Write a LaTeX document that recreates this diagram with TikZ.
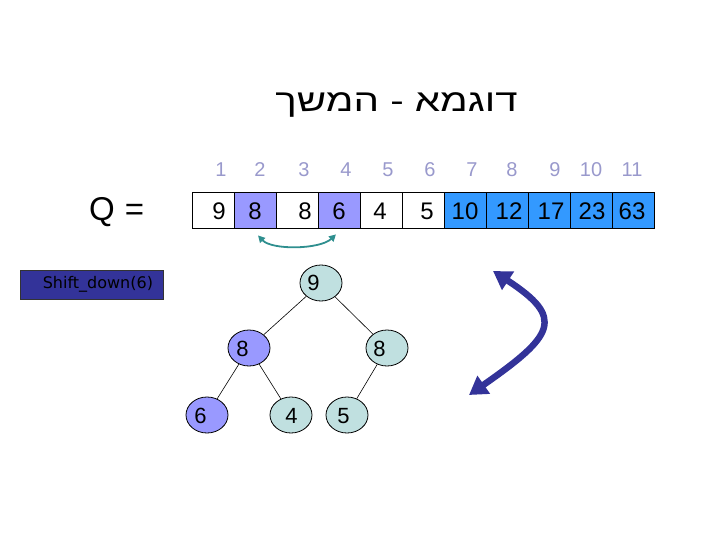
\documentclass[tikz,border=0pt]{standalone}
\usepackage{fontspec}
\setmainfont{Liberation Sans}
\newfontfamily\hebfont[Script=Hebrew,FakeStretch=1.3]{Liberation Sans}
\newfontfamily\boxfont{DejaVu Sans}
\TeXXeTstate=1
\usetikzlibrary{arrows.meta,shapes.geometric}
\definecolor{lblc}{HTML}{9999CC}
\definecolor{purp}{HTML}{9999FF}
\definecolor{bluec}{HTML}{3399FF}
\definecolor{lteal}{HTML}{C0E0E0}
\definecolor{navy}{HTML}{333399}
\definecolor{tealc}{HTML}{2F8F8F}
\tikzset{
  cell/.style={draw=black, line width=0.8pt, minimum width=42pt, minimum height=36pt, inner sep=0pt},
  val/.style={font=\fontsize{24}{26}\selectfont, anchor=base, inner sep=0pt},
  lab/.style={font=\fontsize{20}{22}\selectfont, text=lblc, anchor=base, inner sep=0pt},
  ell/.style={ellipse, draw=black, line width=0.8pt, minimum width=42pt, minimum height=36pt, inner sep=0pt},
  tnum/.style={font=\fontsize{22}{24}\selectfont, inner sep=0pt},
  edge/.style={draw=black, line width=0.6pt},
  sbox/.style={draw=black!80, line width=0.8pt, fill=navy, minimum width=143pt, minimum height=29pt, inner sep=0pt, text width=123pt, align=right, font=\boxfont\fontsize{16}{18}\selectfont},
  swaparrow/.style={draw=tealc, line width=1.8pt, {Triangle[length=7pt,width=7pt]}-{Triangle[length=7pt,width=7pt]}},
  bigarrow/.style={draw=navy, line width=6.5pt, {Triangle[length=18pt,width=21pt]}-{Triangle[length=18pt,width=21pt]}}
}
\begin{document}
\begin{tikzpicture}[x=1pt,y=-1pt]
\useasboundingbox (0,0) rectangle (720,540);
% title
\node[anchor=base, inner sep=0pt] (title) at (396.5,112) {\hebfont\fontsize{31}{33}\selectfont\beginR דוגמא - המשך\endR};
% Q =
\node[anchor=base west, inner sep=0pt, font=\fontsize{33}{35}\selectfont] (Q) at (89,221) {Q\hspace{10pt}=};
% cells
\foreach \i/\f in {1/white,2/purp,3/white,4/purp,5/white,6/white,7/bluec,8/bluec,9/bluec,10/bluec,11/bluec}
  \node[cell, fill=\f] (c\i) at ({192.5+(\i-0.5)*42},210) {};
% values
\node[val] (v1) at (219,220) {9};
\node[val] (v2) at (255,220) {8};
\node[val] (v3) at (305,220) {8};
\node[val] (v4) at (339,220) {6};
\node[val] (v5) at (380,220) {4};
\node[val] (v6) at (427,220) {5};
\node[val] (v7) at (465,220) {10};
\node[val] (v8) at (509,220) {12};
\node[val] (v9) at (551,220) {17};
\node[val] (v10) at (592,220) {23};
\node[val] (v11) at (632,220) {63};
% index labels
\node[lab] (l1) at (221,177) {1};
\node[lab] (l2) at (260,177) {2};
\node[lab] (l3) at (304,177) {3};
\node[lab] (l4) at (346,177) {4};
\node[lab] (l5) at (388,177) {5};
\node[lab] (l6) at (430,177) {6};
\node[lab] (l7) at (472,177) {7};
\node[lab] (l8) at (512,177) {8};
\node[lab] (l9) at (555,177) {9};
\node[lab] (l10) at (591,177) {10};
\node[lab] (l11) at (632,177) {11};
% swap arrow
\coordinate (sa) at ([shift={(2.5,7)}]c2.south);
\coordinate (sb) at ([shift={(-3.5,6)}]c4.south);
\draw[swaparrow] (sa) .. controls +(14,15) and +(-16,15) .. (sb);
% Shift_down box
\node[sbox] (sd) at (91.5,284.5) {Shift\_down(6)};
% tree
\node[ell, fill=lteal] (n1) at (321,283) {};
\node[ell, fill=purp] (n2) at (249,348) {};
\node[ell, fill=lteal] (n3) at (387,348) {};
\node[ell, fill=purp] (n4) at (207,415) {};
\node[ell, fill=lteal] (n5) at (291,415) {};
\node[ell, fill=lteal] (n6) at (347,415) {};
\node[tnum] (t1) at (313.5,283) {9};
\node[tnum] (t2) at (242.5,349) {8};
\node[tnum] (t3) at (379.5,349) {8};
\node[tnum] (t4) at (200.5,416) {6};
\node[tnum] (t5) at (291.5,416) {4};
\node[tnum] (t6) at (343.5,416) {5};
\draw[edge] (n1) -- (n2);
\draw[edge] (n1) -- (n3);
\draw[edge] (n2) -- (n4);
\draw[edge] (n2) -- (n5);
\draw[edge] (n3) -- (n6);
% big arrow
\coordinate (ba) at (493,271);
\coordinate (bb) at (469,395);
\draw[bigarrow] (ba) .. controls (565,318) and (555,335) .. (bb);
\end{tikzpicture}
\end{document}
